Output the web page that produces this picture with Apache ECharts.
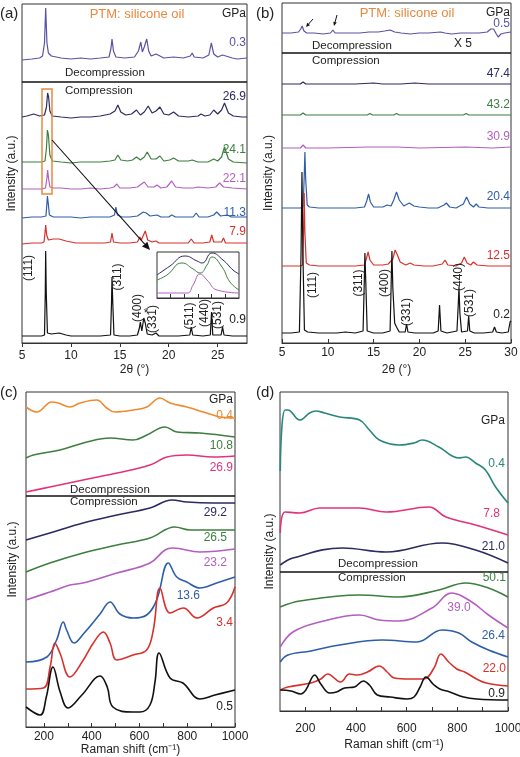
<!DOCTYPE html>
<html><head><meta charset="utf-8">
<script src="https://cdn.jsdelivr.net/npm/echarts@6/dist/echarts.min.js"></script>
<style>html,body{margin:0;padding:0;background:#fff}#c{width:520px;height:757px}</style>
</head><body><div id="c"></div>
<script>
// ---------- Panel (a): XRD, 2θ (°) vs stacked intensity (a.u.) ----------
const aTicks = [5, 10, 15, 20, 25];
const a_03 = [[5,283],[6,284],[6.8,285],[7.1,287],[7.3,300],[7.42,335],[7.55,300],[7.7,290],[8,287],[9,285],[10,284],[11,285],[12,284],[13,285],[13.9,286],[14.1,295],[14.2,304],[14.35,292],[14.6,286],[15.5,285],[16.5,286],[16.9,292],[17.15,301],[17.3,291],[17.5,296],[17.75,304],[17.95,292],[18.2,287],[18.7,289],[19.5,285],[20.5,286],[21.5,285],[22.2,287],[22.4,290],[22.6,286],[23.5,285],[24.1,288],[24.35,300],[24.6,289],[25,286],[25.5,288],[25.7,286],[26.5,285],[27,284],[28,285]];
const a_269 = [[5,226],[5.5,227],[6.2,229],[6.8,227],[7.3,228],[7.5,236],[7.62,250],[7.72,246],[7.85,232],[8.1,227],[9,226],[10,225],[11,226],[12,226],[13,227],[14,229],[14.5,232],[14.8,238],[15.1,231],[15.6,228],[16.2,229],[16.7,233],[17.1,228],[17.5,231],[17.9,237],[18.3,230],[18.7,232],[19.1,236],[19.5,229],[20,228],[20.5,231],[21,227],[22,226],[23,227],[23.3,229],[23.7,227],[24.2,228],[24.6,233],[25,229],[25.4,233],[25.7,240],[26.1,230],[26.6,227],[27.5,226],[28,226]];
const a_241 = [[5,181],[6,181],[7,181],[7.35,182],[7.5,195],[7.6,213],[7.7,208],[7.85,188],[8.1,182],[9,181],[10,180],[11,181],[12,181],[13,181],[14,182],[14.5,183],[14.8,188],[15.1,183],[15.8,182],[16.3,183],[16.7,186],[17.1,183],[17.5,186],[17.8,191],[18.2,184],[18.7,184],[19.1,187],[19.5,182],[20.1,183],[20.5,185],[21,182],[22,182],[22.4,183],[23,181],[24,181],[24.6,184],[25,182],[25.4,186],[25.7,196],[26.1,184],[26.6,181],[28,180]];
const a_221 = [[5,154],[6,154],[7,154],[7.4,155],[7.55,165],[7.62,173],[7.72,164],[7.85,156],[8.2,155],[9,155],[10,154],[11,154],[12,155],[13,154],[14,155],[14.4,156],[14.7,159],[15,155],[16,155],[16.8,156],[17.5,161],[17.9,156],[18.5,156],[18.8,158],[19.2,155],[19.8,156],[20.3,162],[20.7,156],[21.5,155],[22.5,155],[23,156],[24,155],[24.8,156],[25.2,160],[25.6,156],[26.5,155],[28,154]];
const a_113 = [[5,125],[6,126],[7,126],[7.45,127],[7.55,140],[7.6,147],[7.68,140],[7.8,128],[8.2,126],[9,126],[10,126],[11,125],[12,126],[13,126],[14,126],[14.45,128],[14.6,136],[14.75,128],[15.2,126],[16,126],[16.8,127],[17.4,131],[17.7,130],[18.1,127],[18.8,128],[19.2,126],[20,126],[20.3,128],[20.7,126],[21.5,126],[22.5,126],[22.8,130],[23.1,126],[24,126],[24.6,128],[24.9,131],[25.3,127],[26,128],[26.4,126],[27,126],[28,126]];
const a_79 = [[5,99],[6,100],[7,100],[7.25,101],[7.35,110],[7.42,118],[7.52,108],[7.7,103],[8.2,104],[8.8,104],[9.5,102],[10.5,100],[11.5,100],[12.5,100],[13.5,100],[14.05,101],[14.2,110],[14.35,101],[15,100],[16,100],[16.8,101],[17.05,106],[17.2,103],[17.6,112],[17.85,103],[18.3,101],[18.7,102],[19,100],[20,100],[21,100],[22,100],[22.3,104],[22.45,102],[22.6,100],[23.5,100],[24.2,101],[24.4,108],[24.6,101],[25.4,101],[25.6,105],[25.8,100],[26.5,100],[28,100]];
const a_09 = [[5,7],[6,7],[7,7],[7.3,8],[7.38,50],[7.42,92],[7.48,50],[7.6,10],[8,9],[8.8,10],[9.5,8],[10,7],[11,7],[12,7],[13,7],[14.05,8],[14.15,40],[14.2,66],[14.28,40],[14.4,8],[15,7],[16,7],[16.8,8],[17.0,15],[17.1,21],[17.25,12],[17.45,25],[17.6,20],[17.8,9],[18.3,8],[18.7,10],[19.0,7],[20,7],[21,7],[22.15,8],[22.3,16],[22.45,8],[23.5,7],[24.25,8],[24.38,31],[24.5,8],[25.35,8],[25.5,16],[25.65,8],[26.5,7],[27,7],[28,7]];
// inset of panel (a): zoom of the (111) peak
const in_black = [[7.3,23],[7.395,32],[7.505,42],[7.593,37],[7.63,35],[7.702,45],[7.783,38],[7.856,28],[7.9,24]];
const in_green = [[7.3,18],[7.373,23],[7.483,35],[7.564,29],[7.615,25],[7.666,33],[7.702,41],[7.776,31],[7.834,16],[7.9,8]];
const in_mag = [[7.3,5],[7.52,5],[7.564,13],[7.615,24],[7.666,18],[7.739,8],[7.9,5]];
const aPressures = ['0.3','26.9','24.1','22.1','11.3','7.9','0.9'];
const aHkl = ['(111)','(311)','(400)','*','(331)','(511)','(440)','(531)'];

// ---------- Panel (b): XRD ----------
const bTicks = [5, 10, 15, 20, 25, 30];
const b_05 = [[5,310],[6,310],[6.8,311],[7.05,314],[7.2,317],[7.4,312],[7.7,310],[8.5,310],[9.5,309],[10.3,310],[10.55,313],[10.8,310],[11.5,310],[12.5,310],[13.5,310],[14.5,311],[15.5,311],[16.2,312],[16.8,313],[17.3,311],[18,310],[19,309],[20,310],[21,310],[22.3,311],[22.8,310],[23.5,309],[24.5,310],[25.5,310],[26.5,310],[27.4,311],[27.8,314],[28.1,314],[28.4,309],[28.6,306],[28.9,309],[29.3,310],[30,311]];
const b_474 = [[5,259],[7,259],[7.3,261],[7.6,259],[10,259],[13,259],[15,260],[16,259],[18,259],[19.5,260],[21,259],[24,259],[27,259],[30,259]];
const b_432 = [[5,228],[7,228],[7.3,230],[7.6,228],[10,228],[14.3,228],[14.6,229.5],[14.9,228],[17.2,228],[17.5,229.5],[17.8,228],[20,228],[24.8,228],[25.1,229.5],[25.4,228],[28,228],[30,228]];
const b_309 = [[5,195],[7,195],[7.3,198],[7.6,195],[10,195],[14.5,196],[17.5,196],[20,195],[25,196],[28,195],[30,196]];
const b_204 = [[5,135],[6,135],[7,135],[7.3,136],[7.42,165],[7.5,191],[7.58,165],[7.75,138],[8,136],[9,135],[10,135],[11,135],[12,135],[13,135],[14,136],[14.25,142],[14.45,149],[14.65,141],[15,136],[16,136],[16.5,138],[16.9,137],[17.2,143],[17.5,151],[17.8,143],[18.3,137],[18.9,140],[19.4,137],[20,136],[21,135],[22,135],[22.7,138],[22.95,140],[23.3,136],[24,135],[24.8,139],[25.15,146],[25.5,139],[25.9,136],[26.2,139],[26.5,136],[27.5,135],[29,135],[30,135]];
const b_125 = [[5,77],[6,77],[7,77],[7.25,78],[7.35,110],[7.42,150],[7.5,110],[7.65,80],[8,78],[9,77],[10,77],[11,77],[12,77],[13,77],[14,78],[14.2,84],[14.4,91],[14.6,83],[15,78],[16,78],[16.6,79],[17.1,84],[17.35,93],[17.6,88],[17.9,81],[18.5,78],[19,80],[19.4,78],[20.5,77],[21.5,77],[22.5,79],[22.8,83],[23.1,78],[24,77],[24.6,80],[24.9,86],[25.2,80],[25.6,78],[25.9,81],[26.3,78],[27.5,77],[29,77],[30,77]];
const b_02 = [[5,10],[6,10],[6.9,11],[7.08,90],[7.18,171],[7.28,90],[7.45,13],[7.8,11],[9,10],[10,10],[11,10],[11.9,11],[12.0,13],[12.1,10],[13,10],[13.85,12],[13.98,60],[14.05,90],[14.15,60],[14.3,12],[15,10],[16,10],[16.8,12],[16.92,60],[17.0,92],[17.1,55],[17.3,20],[17.5,16],[17.8,11],[18.45,11],[18.6,19],[18.75,11],[19.5,10],[20.5,10],[21.5,10],[22.05,12],[22.2,38],[22.35,12],[23,10],[24.1,12],[24.25,40],[24.32,56],[24.42,30],[24.6,11],[25.25,12],[25.38,27],[25.5,12],[26,10],[27,10],[28,11],[28.2,16],[28.4,11],[29,10],[29.7,11],[29.9,21],[30,22]];
const bPressures = ['0.5','47.4','43.2','30.9','20.4','12.5','0.2'];
const bHkl = ['(111)','(311)','(400)','(331)','(440)','(531)'];

// ---------- Panel (c): Raman ----------
const cLabels = [200, 400, 600, 800, 1000];
const cTicks = [200, 300, 400, 500, 600, 700, 800, 900, 1000];
const c_04 = [[125,320],[170,315],[233,325],[260,324],[309,320],[351,324],[421,327],[463,319],[498,315],[574,317],[631,320],[686,329],[728,324],[798,320],[881,314],[937,310],[1000,309]];
const c_108 = [[125,269],[156,272],[267,277],[380,285],[477,289],[573,287],[631,292],[707,300],[757,295],[853,294],[1000,290]];
const c_269 = [[125,235],[225,240],[364,247],[506,254],[644,262],[715,270],[799,272],[908,270],[1000,271]];
const c_292 = [[125,187],[225,194],[364,204],[506,212],[644,219],[736,227],[799,225],[908,224],[1000,224]];
const c_265 = [[125,155],[225,164],[364,174],[506,182],[644,189],[748,200],[813,197],[908,197],[1000,197]];
const c_232 = [[125,127],[225,135],[309,142],[364,144],[506,154],[644,164],[707,177],[740,179],[853,175],[1000,178]];
const c_136 = [[125,65],[212,70],[253,87],[281,105],[295,97],[326,84],[365,93],[435,113],[477,125],[518,113],[574,109],[630,112],[672,127],[721,164],[756,150],[798,145],[853,139],[923,144],[1000,150]];
const c_34 = [[125,38],[198,39],[226,60],[246,84],[267,74],[309,50],[365,67],[407,84],[449,95],[477,84],[505,67],[574,72],[630,77],[658,97],[686,139],[728,114],[784,119],[840,109],[909,119],[965,124],[1000,140]];
const c_05 = [[125,20],[184,12],[210,30],[238,60],[268,35],[301,19],[359,32],[435,51],[465,40],[489,20],[573,15],[602,15],[644,22],[665,45],[682,74],[728,49],[782,44],[853,28],[916,32],[1000,37]];
const cPressures = ['0.4','10.8','26.9','29.2','26.5','23.2','13.6','3.4','0.5'];

// ---------- Panel (d): Raman ----------
const dLabels = [200, 400, 600, 800, 1000];
const dTicks = [200, 300, 400, 500, 600, 700, 800, 900, 1000];
const d_04 = [[101,240],[108,286],[120,301],[131,301],[178,291],[217,298],[241,300],[276,298],[335,294],[414,291],[453,281],[492,271],[570,266],[629,268],[661,271],[727,264],[806,253],[833,254],[872,248],[911,241],[951,224],[1000,208]];
const d_78 = [[101,178],[120,199],[178,198],[257,203],[414,203],[519,199],[688,204],[755,194],[872,186],[1000,176]];
const d_210 = [[101,146],[151,153],[347,163],[519,159],[739,168],[872,161],[1000,148]];
const d_501 = [[101,104],[178,110],[414,116],[570,114],[727,121],[833,128],[923,123],[1000,114]];
const d_390 = [[101,64],[151,79],[257,89],[414,96],[492,91],[570,90],[700,103],[778,118],[857,109],[923,96],[1000,83]];
const d_264 = [[101,49],[131,56],[222,60],[335,66],[504,71],[641,69],[739,81],[806,78],[857,69],[923,61],[1000,54]];
const d_220 = [[101,21],[131,24],[222,28],[261,32],[288,37],[339,29],[374,37],[406,36],[445,39],[492,45],[523,39],[551,33],[614,32],[668,32],[708,43],[735,57],[766,49],[798,42],[829,39],[876,32],[915,28],[1000,25]];
const d_09 = [[101,21],[143,20],[182,17],[202,21],[237,36],[261,27],[296,18],[323,19],[355,23],[394,24],[429,30],[453,26],[484,16],[535,14],[602,12],[629,14],[653,24],[676,34],[708,26],[731,22],[770,19],[825,14],[876,12],[1000,11]];
const dPressures = ['0.4','7.8','21.0','50.1','39.0','26.4','22.0','0.9'];

// ---------- common styles ----------
const FONT = '"Liberation Sans", Arial, Helvetica, sans-serif';
const C = {purple:'#5a52a3', navy:'#2c2a62', green:'#3d7f3f', magenta:'#b25fc0', blue:'#2f5ea9', red:'#d8302b', black:'#111111', orange:'#e8893f', corange:'#ef8a2e', pink:'#e23379', teal:'#2a877c', text:'#222222', axis:'#333333'};

function xAx(gi, min, max, labels, ticks, name, inside, margin, nameGap) {
  return {type:'value', gridIndex:gi, min, max, name, nameLocation:'middle', nameGap,
    nameTextStyle:{fontSize:12, color:C.text, fontFamily:FONT},
    axisLine:{show:true, lineStyle:{color:C.axis, width:1}},
    axisTick:{show:true, inside, length:4, customValues:ticks, lineStyle:{color:C.axis}},
    axisLabel:{show: !!labels, customValues:labels || [], fontSize:12, color:C.text, margin, fontFamily:FONT,
      formatter: v => String(v)},
    splitLine:{show:false}};
}
function yAx(gi, max, name, nameGap) {
  return {type:'value', gridIndex:gi, min:0, max, name, nameLocation:'middle', nameGap,
    nameTextStyle:{fontSize:12, color:C.text, fontFamily:FONT},
    axisLine:{show:false}, axisTick:{show:false}, axisLabel:{show:false}, splitLine:{show:false}};
}
function L(data, color, ai, w, smooth) {
  return {type:'line', data, xAxisIndex:ai, yAxisIndex:ai, showSymbol:false, symbol:'none', silent:true,
    smooth: smooth || false, lineStyle:{color, width:w || 1.2}, itemStyle:{color}, z:3};
}
function T(text, x, y, color, o) {
  o = o || {};
  return {type:'text', x, y, rotation:o.rot || 0, z:10,
    style:{text, fill:color || C.text, font:(o.size || 12) + 'px ' + FONT,
      align:o.align || 'left', verticalAlign:'middle'}};
}
function HL(x1, x2, y) {
  return {type:'line', shape:{x1, y1:y, x2, y2:y}, style:{stroke:'#111', lineWidth:1.3}, z:10};
}
function arrow(x1, y1, x2, y2, head, lw) {
  const dx = x2 - x1, dy = y2 - y1, len = Math.hypot(dx, dy), ux = dx/len, uy = dy/len;
  const bx = x2 - ux*head, by = y2 - uy*head, px = -uy*head*0.45, py = ux*head*0.45;
  return [
    {type:'line', shape:{x1, y1, x2:bx, y2:by}, style:{stroke:'#111', lineWidth:lw}, z:10},
    {type:'polygon', shape:{points:[[x2,y2],[bx+px,by+py],[bx-px,by-py]]}, style:{fill:'#111'}, z:10}
  ];
}

const grid = [
  {left:22, top:4, width:225, height:339},      // a
  {left:157, top:252, width:82, height:46},     // inset
  {left:282, top:3, width:229, height:340},     // b
  {left:26, top:392, width:209, height:335},    // c
  {left:280, top:392, width:228, height:319}    // d
].map(g => Object.assign({show:true, borderColor:C.axis, borderWidth:1, backgroundColor:'#fff',
  containLabel:false, outerBoundsMode:'none'}, g));

const xAxis = [
  xAx(0, 5, 28, aTicks, aTicks, '2θ (°)', false, 7, 21),
  xAx(1, 7.3, 7.9, null, [7.4, 7.5, 7.6, 7.7, 7.8], '', true, 0, 0),
  xAx(2, 5, 30, bTicks, bTicks, '2θ (°)', true, 4, 21),
  xAx(3, 125, 1000, cLabels, cTicks, 'Raman shift (cm⁻¹)', true, 4, 17),
  xAx(4, 100, 1000, dLabels, dTicks, 'Raman shift (cm⁻¹)', true, 12, 28)
];
const yAxis = [
  yAx(0, 339, 'Intensity (a.u.)', 4),
  yAx(1, 46, '', 0),
  yAx(2, 340, 'Intensity (a.u.)', 7),
  yAx(3, 335, 'Intensity (a.u.)', 7),
  yAx(4, 319, 'Intensity (a.u.)', 4)
];

const series = [
  L(a_03, C.purple, 0), L(a_269, C.navy, 0), L(a_241, C.green, 0), L(a_221, C.magenta, 0),
  L(a_113, C.blue, 0), L(a_79, C.red, 0), L(a_09, C.black, 0),
  L(in_black, C.navy, 1, 1, true), L(in_green, C.green, 1, 1, true), L(in_mag, C.magenta, 1, 1, true),
  L(b_05, C.purple, 2), L(b_474, C.navy, 2), L(b_432, C.green, 2), L(b_309, C.magenta, 2),
  L(b_204, C.blue, 2), L(b_125, C.red, 2), L(b_02, C.black, 2),
  L(c_04, C.corange, 3, 1.6, 0.4), L(c_108, C.green, 3, 1.6, 0.4), L(c_269, C.pink, 3, 1.6, 0.4),
  L(c_292, C.navy, 3, 1.6, 0.4), L(c_265, C.green, 3, 1.6, 0.4), L(c_232, C.magenta, 3, 1.6, 0.4),
  L(c_136, C.blue, 3, 1.6, 0.4), L(c_34, C.red, 3, 1.6, 0.4), L(c_05, C.black, 3, 1.6, 0.4),
  L(d_04, C.teal, 4, 1.6, 0.4), L(d_78, C.pink, 4, 1.6, 0.4), L(d_210, C.navy, 4, 1.6, 0.4),
  L(d_501, C.green, 4, 1.6, 0.4), L(d_390, C.magenta, 4, 1.6, 0.4), L(d_264, C.blue, 4, 1.6, 0.4),
  L(d_220, C.red, 4, 1.6, 0.4), L(d_09, C.black, 4, 1.6, 0.4)
];

const R = Math.PI / 2;
const S = {size:11.5};
const graphic = [
  // panel letters
  T('(a)', 0, 14, C.text, {size:15}), T('(b)', 256, 14, C.text, {size:15}),
  T('(c)', 0, 393, C.text, {size:15}), T('(d)', 256, 393, C.text, {size:15}),
  // panel a
  T('PTM: silicone oil', 137, 14, C.orange, {size:13, align:'center'}),
  T('GPa', 246, 14, C.text, {align:'right'}),
  T(aPressures[0], 246, 43, C.purple, {align:'right'}),
  HL(22, 247, 82),
  T('Decompression', 65, 73, C.text, S), T('Compression', 65, 91, C.text, S),
  T(aPressures[1], 246, 97, C.navy, {align:'right'}),
  T(aPressures[2], 246, 150, C.green, {align:'right'}),
  T(aPressures[3], 246, 179, C.magenta, {align:'right'}),
  T(aPressures[4], 246, 213, C.blue, {align:'right'}),
  T(aPressures[5], 246, 232, C.red, {align:'right'}),
  T(aPressures[6], 246, 320, C.text, {align:'right'}),
  T(aHkl[0], 29, 268, C.text, {rot:R, align:'center'}),
  T(aHkl[1], 118, 277, C.text, {rot:R, align:'center'}),
  T(aHkl[2], 138, 308, C.text, {rot:R, align:'center'}),
  T(aHkl[3], 146, 314, C.text, {align:'center'}),
  T(aHkl[4], 153, 319, C.text, {rot:R, align:'center'}),
  T(aHkl[5], 190, 316, C.text, {rot:R, align:'center'}),
  T(aHkl[6], 205, 313, C.text, {rot:R, align:'center'}),
  T(aHkl[7], 218, 315, C.text, {rot:R, align:'center'}),
  {type:'rect', shape:{x:42, y:89, width:10, height:105}, style:{fill:'none', stroke:C.orange, lineWidth:1.5}, z:9},
  ...arrow(52, 140, 150, 250, 8, 1.1),
  // panel b
  T('PTM: silicone oil', 407, 13, C.orange, {size:13, align:'center'}),
  T('GPa', 510, 13, C.text, {align:'right'}),
  T(bPressures[0], 510, 24, C.purple, {align:'right'}),
  T('X 5', 463, 44, C.text, {align:'center'}),
  ...arrow(313, 19, 306, 27, 4, 1), ...arrow(337, 15, 334, 26, 4, 1),
  HL(282, 511, 53),
  T('Decompression', 312, 46, C.text, S), T('Compression', 312, 61, C.text, S),
  T(bPressures[1], 510, 74, C.navy, {align:'right'}),
  T(bPressures[2], 510, 105, C.green, {align:'right'}),
  T(bPressures[3], 510, 137, C.magenta, {align:'right'}),
  T(bPressures[4], 510, 197, C.blue, {align:'right'}),
  T(bPressures[5], 510, 256, C.red, {align:'right'}),
  T(bPressures[6], 510, 315, C.text, {align:'right'}),
  T(bHkl[0], 313, 285, C.text, {rot:R, align:'center'}),
  T(bHkl[1], 359, 283, C.text, {rot:R, align:'center'}),
  T(bHkl[2], 385, 283, C.text, {rot:R, align:'center'}),
  T(bHkl[3], 407, 312, C.text, {rot:R, align:'center'}),
  T(bHkl[4], 459, 277, C.text, {rot:R, align:'center'}),
  T(bHkl[5], 470, 303, C.text, {rot:R, align:'center'}),
  // panel c
  T('GPa', 233, 400, C.text, {align:'right'}),
  T(cPressures[0], 233, 416, C.corange, {align:'right'}),
  T(cPressures[1], 233, 446, C.green, {align:'right'}),
  T(cPressures[2], 233, 468, C.pink, {align:'right'}),
  HL(26, 235, 496),
  T('Decompression', 70, 490, C.text, S), T('Compression', 70, 502, C.text, S),
  T(cPressures[3], 227, 513, C.navy, {align:'right'}),
  T(cPressures[4], 227, 538, C.green, {align:'right'}),
  T(cPressures[5], 227, 563, C.magenta, {align:'right'}),
  T(cPressures[6], 200, 596, C.blue, {align:'right'}),
  T(cPressures[7], 233, 623, C.red, {align:'right'}),
  T(cPressures[8], 233, 707, C.text, {align:'right'}),
  // panel d
  T('GPa', 505, 421, C.text, {align:'right'}),
  T(dPressures[0], 505, 464, C.teal, {align:'right'}),
  T(dPressures[1], 500, 514, C.pink, {align:'right'}),
  T(dPressures[2], 505, 547, C.navy, {align:'right'}),
  HL(280, 508, 572),
  T('Decompression', 338, 564, C.text, S), T('Compression', 338, 578, C.text, S),
  T(dPressures[3], 506, 578, C.green, {align:'right'}),
  T(dPressures[4], 459, 608, C.magenta, {align:'center'}),
  T(dPressures[5], 505, 636, C.blue, {align:'right'}),
  T(dPressures[6], 506, 669, C.red, {align:'right'}),
  T(dPressures[7], 505, 694, C.text, {align:'right'})
];

const chart = echarts.init(document.getElementById('c'), null, {renderer:'canvas', width:520, height:757});
chart.setOption({animation:false, backgroundColor:'#fff', textStyle:{fontFamily:FONT},
  grid, xAxis, yAxis, series, graphic});
</script></body></html>
